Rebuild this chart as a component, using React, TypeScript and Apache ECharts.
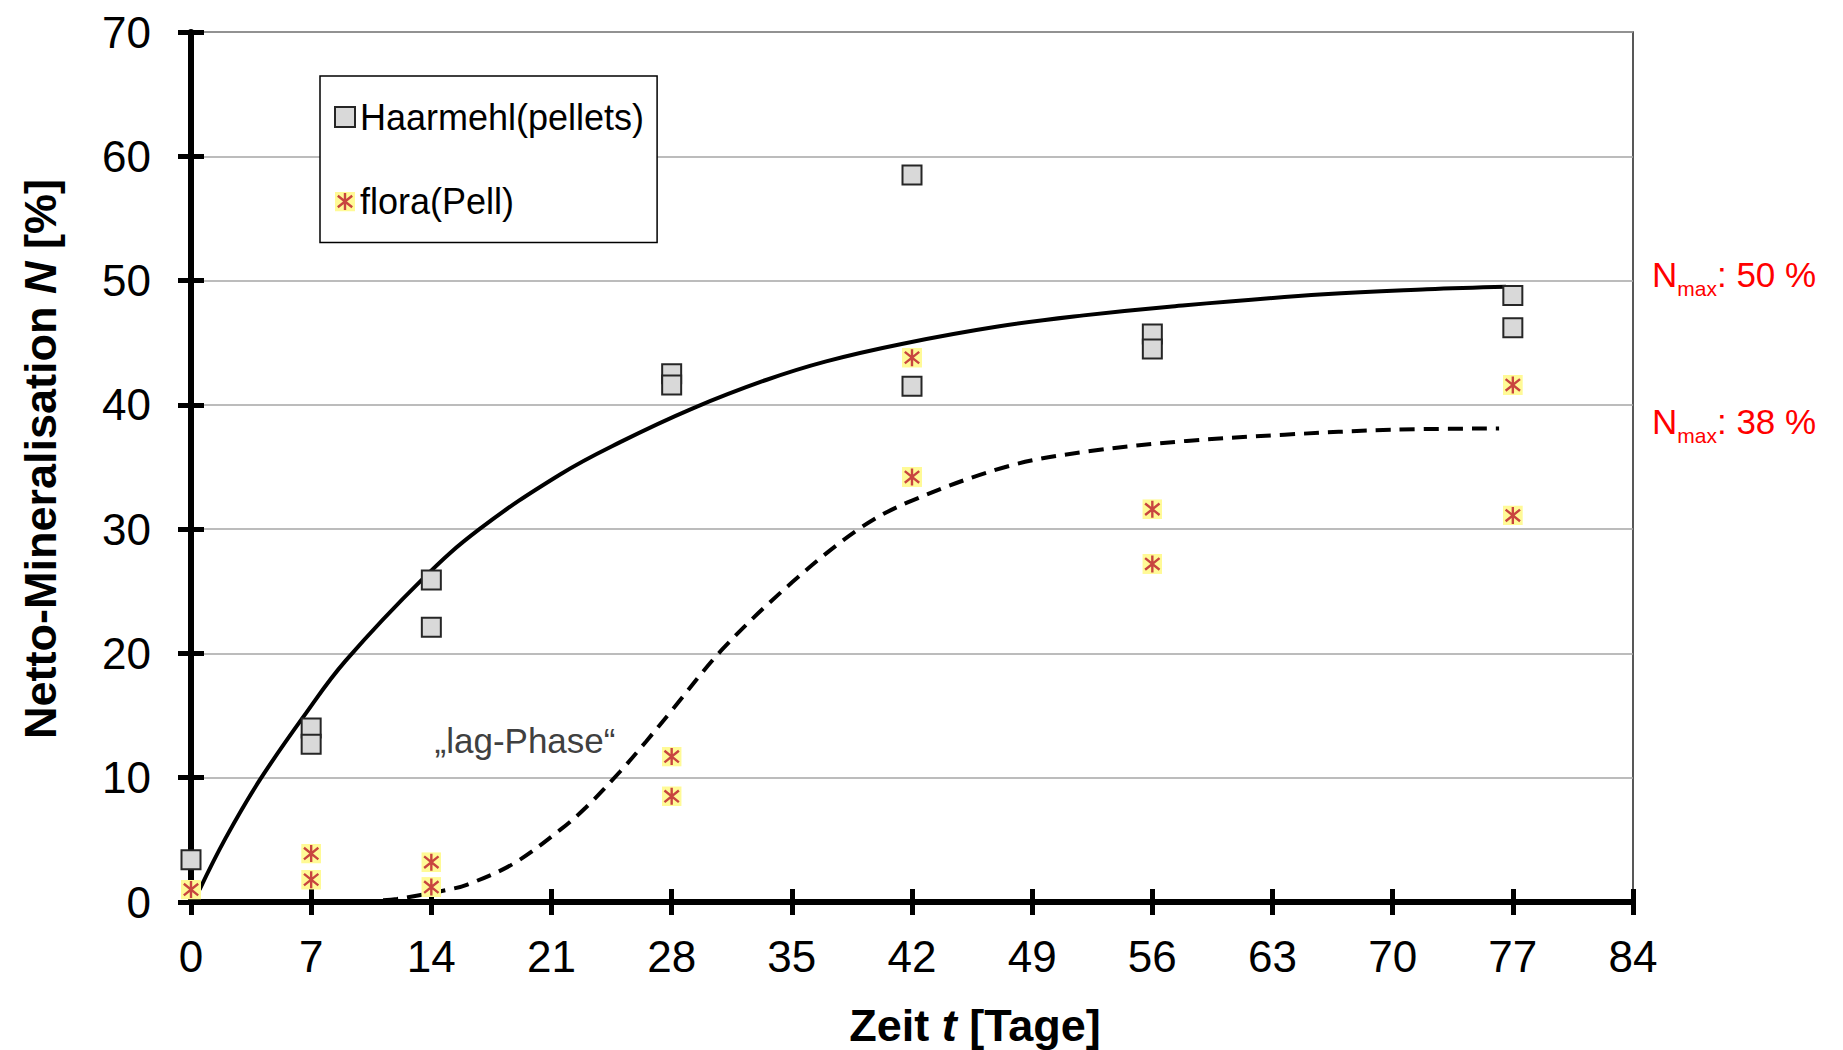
import React, { useEffect, useRef } from "react";
import * as echarts from "echarts";

// ---- data ----
const X_MIN = 0;
const X_MAX = 84;
const X_STEP = 7;
const Y_MIN = 0;
const Y_MAX = 70;
const Y_STEP = 10;

const HAAR_NAME = "Haarmehl(pellets)";
const FLORA_NAME = "flora(Pell)";

const HAAR_T = [0, 7, 7, 14, 14, 28, 28, 42, 42, 56, 56, 77, 77];
const HAAR_N = [3.4, 14.0, 12.7, 25.9, 22.1, 42.5, 41.6, 58.5, 41.5, 45.7, 44.5, 48.8, 46.2];

const FLORA_T = [0, 7, 7, 14, 14, 28, 28, 42, 42, 56, 56, 77, 77];
const FLORA_N = [1.0, 3.9, 1.8, 3.2, 1.2, 11.7, 8.5, 43.8, 34.2, 31.6, 27.2, 41.6, 31.1];

// fitted curves
const FIT_HAAR_T = [0.5, 2, 4, 6.7, 9, 13.5, 16.8, 21.5, 25, 29.2, 33.5, 37, 41.4, 47, 52, 57, 66, 72, 76.6];
const FIT_HAAR_N = [1.0, 5.1, 9.8, 15.2, 19.4, 26.0, 30.0, 34.4, 37.0, 39.7, 42.0, 43.5, 44.9, 46.3, 47.2, 47.9, 48.9, 49.3, 49.5];

const FIT_FLORA_T = [9.8, 12, 13.3, 14.9, 16.1, 18.8, 21.5, 23, 25, 26.5, 28, 31, 35, 39, 42, 47.7, 52.5, 58, 63.7, 70, 76.2];
const FIT_FLORA_N = [0.0, 0.25, 0.55, 0.97, 1.4, 3.1, 5.8, 7.6, 10.5, 12.9, 15.4, 20.4, 25.7, 30.1, 32.3, 35.1, 36.3, 37.1, 37.6, 38.0, 38.1];

const NMAX_VALUES = [50, 38];
const LAG_LABEL = "\u201Elag-Phase\u201C";
const X_TITLE = "Zeit {i|t} [Tage]";
const Y_TITLE = "Netto-Mineralisation {i|N} [%]";

// ---- style ----
const FONT = "'Liberation Sans', Arial, Helvetica, sans-serif";

const floraSvg =
  "<svg xmlns='http://www.w3.org/2000/svg' width='20' height='20' viewBox='0 0 20 20'>" +
  "<rect x='0' y='0' width='20' height='20' fill='#FFFA96'/>" +
  "<path d='M10 1.5V18.5M2.8 4.2L17.2 15.8M17.2 4.2L2.8 15.8' stroke='#C8453F' stroke-width='2.4' fill='none'/>" +
  "</svg>";
const FLORA_SYMBOL = "image://data:image/svg+xml;charset=utf-8," + encodeURIComponent(floraSvg);

function pairs(xs: number[], ys: number[]) {
  return xs.map((x, i) => [x, ys[i]]);
}

export default function App() {
  const ref = useRef<HTMLDivElement>(null);

  useEffect(() => {
    document.body.style.margin = "0";
    if (!ref.current) return;
    const chart = echarts.init(ref.current, null, { renderer: "svg" });

    const tickAxisCommon = {
      type: "value" as const,
      axisLine: { show: false },
      axisLabel: { show: false },
      splitLine: { show: false },
      axisTick: { show: true, inside: true, length: 13, lineStyle: { color: "#000", width: 5 } },
    };

    const nmaxTexts = NMAX_VALUES.map((v, i) => ({
      type: "text",
      x: 1652,
      y: i === 0 ? 257 : 404,
      style: {
        text: `{a|N}{s|max}{a|: ${v} %}`,
        align: "left",
        verticalAlign: "top",
        rich: {
          a: { fontSize: 35, fontFamily: FONT, fill: "#FF0000", color: "#FF0000", lineHeight: 42, verticalAlign: "top" },
          s: { fontSize: 21, fontFamily: FONT, fill: "#FF0000", color: "#FF0000", lineHeight: 21, verticalAlign: "bottom" },
        },
      },
    }));

    const option: any = {
      animation: false,
      backgroundColor: "#ffffff",
      grid: {
        left: 191,
        right: 210,
        top: 32,
        bottom: 148,
        show: true,
        borderColor: "#222",
        borderWidth: 1.5,
        containLabel: false,
        outerBoundsMode: "none",
      },
      legend: {
        orient: "vertical",
        left: 320,
        top: 76,
        data: [HAAR_NAME, FLORA_NAME],
        itemWidth: 20,
        itemHeight: 20,
        itemGap: 44.5,
        padding: [21, 13, 21, 14],
        backgroundColor: "#ffffff",
        borderColor: "#000",
        borderWidth: 1.5,
        borderRadius: 0,
        textStyle: { fontSize: 36, fontFamily: FONT, color: "#000", lineHeight: 40 },
        selectedMode: false,
      },
      xAxis: [
        {
          type: "value",
          min: X_MIN,
          max: X_MAX,
          interval: X_STEP,
          position: "bottom",
          axisLine: { show: true, onZero: false, lineStyle: { color: "#000", width: 6 } },
          axisTick: { show: true, inside: false, length: 13, lineStyle: { color: "#000", width: 5 } },
          axisLabel: { show: true, margin: 32, fontSize: 44, fontFamily: FONT, color: "#000" },
          splitLine: { show: false },
        },
        { ...tickAxisCommon, min: X_MIN, max: X_MAX, interval: X_STEP, position: "bottom" },
      ],
      yAxis: [
        {
          type: "value",
          min: Y_MIN,
          max: Y_MAX,
          interval: Y_STEP,
          position: "left",
          axisLine: { show: true, onZero: false, lineStyle: { color: "#000", width: 6 } },
          axisTick: { show: true, inside: false, length: 13, lineStyle: { color: "#000", width: 5 } },
          axisLabel: { show: true, margin: 40, fontSize: 44, fontFamily: FONT, color: "#000" },
          splitLine: { show: true, lineStyle: { color: "#A6A6A6", width: 1.5 } },
        },
        { ...tickAxisCommon, min: Y_MIN, max: Y_MAX, interval: Y_STEP, position: "left" },
      ],
      series: [
        {
          type: "line",
          name: "fit-haar",
          data: pairs(FIT_HAAR_T, FIT_HAAR_N),
          showSymbol: false,
          smooth: 0.4,
          lineStyle: { color: "#000", width: 4, type: "solid" },
          z: 3,
          silent: true,
        },
        {
          type: "line",
          name: "fit-flora",
          data: pairs(FIT_FLORA_T, FIT_FLORA_N),
          showSymbol: false,
          smooth: 0.35,
          lineStyle: { color: "#000", width: 4, type: [15, 9] },
          z: 3,
          silent: true,
        },
        {
          type: "scatter",
          name: HAAR_NAME,
          data: pairs(HAAR_T, HAAR_N),
          symbol: "rect",
          symbolSize: 19,
          itemStyle: { color: "#D9D9D9", borderColor: "#262626", borderWidth: 2, opacity: 1 },
          z: 5,
        },
        {
          type: "scatter",
          name: FLORA_NAME,
          data: pairs(FLORA_T, FLORA_N),
          symbol: FLORA_SYMBOL,
          symbolSize: 20,
          itemStyle: { color: "#FFFA96", opacity: 1 },
          z: 6,
        },
      ],
      graphic: [
        {
          type: "text",
          x: 40,
          y: 459,
          rotation: Math.PI / 2,
          style: {
            text: Y_TITLE,
            fontSize: 45,
            fontWeight: "bold",
            fontFamily: FONT,
            fill: "#000",
            align: "center",
            verticalAlign: "middle",
            rich: {
              i: { fontSize: 45, fontWeight: "bold", fontStyle: "italic", fontFamily: FONT, fill: "#000" },
            },
          },
        },
        {
          type: "text",
          x: 975,
          y: 1025,
          style: {
            text: X_TITLE,
            fontSize: 45,
            fontWeight: "bold",
            fontFamily: FONT,
            fill: "#000",
            align: "center",
            verticalAlign: "middle",
            rich: {
              i: { fontSize: 45, fontWeight: "bold", fontStyle: "italic", fontFamily: FONT, fill: "#000" },
            },
          },
        },
        {
          type: "text",
          x: 525,
          y: 740,
          style: {
            text: LAG_LABEL,
            fontSize: 35,
            fontFamily: FONT,
            fill: "#404040",
            align: "center",
            verticalAlign: "middle",
          },
        },
        ...nmaxTexts,
      ],
    };

    chart.setOption(option);
    return () => chart.dispose();
  }, []);

  return <div ref={ref} style={{ width: 1843, height: 1050 }} />;
}
